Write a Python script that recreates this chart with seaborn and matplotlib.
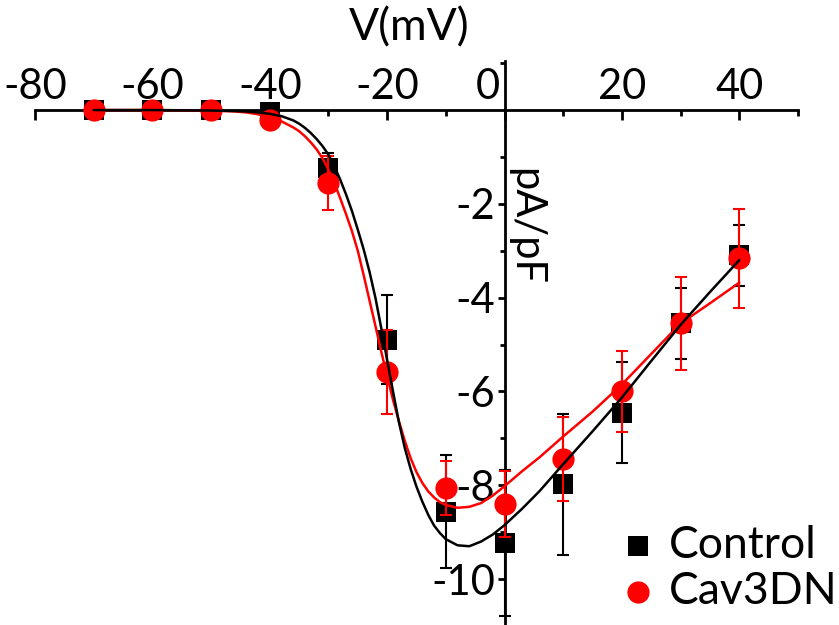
import numpy as np
import pandas as pd
import matplotlib
matplotlib.use("Agg")
import matplotlib.pyplot as plt
import matplotlib.transforms as mtransforms
import seaborn as sns

# Voltage steps (mV)
voltage = [-70, -60, -50, -40, -30, -20, -10, 0, 10, 20, 30, 40]

# Mean current density (pA/pF) and error
control_mean = [0.0, 0.0, 0.0, -0.05, -1.24, -4.9, -8.56, -9.23, -7.98, -6.45, -4.55, -3.1]
control_err = [0, 0, 0, 0, 0.33, 0.95, 1.2, 1.55, 1.5, 1.08, 0.75, 0.65]
cav3dn_mean = [0.0, 0.0, 0.0, -0.21, -1.56, -5.58, -8.06, -8.4, -7.44, -6.0, -4.55, -3.16]
cav3dn_err = [0, 0, 0, 0, 0.57, 0.9, 0.57, 0.7, 0.9, 0.86, 1.0, 1.05]

# Fitted curves
fit_v = [-70, -60, -50, -46, -44, -42, -40, -38, -36, -35, -34, -33, -32, -31, -30,
         -29, -28, -27, -26, -25, -24, -23, -22, -21, -20, -19, -18, -17, -16, -15,
         -14, -13, -12, -11, -10, -8, -6, -4, -2, 0, 3, 6, 10, 15, 20, 25, 30, 35, 40]
control_fit = [0.0, 0.0, -0.01, -0.02, -0.03, -0.05, -0.08, -0.13, -0.22, -0.29, -0.38,
               -0.49, -0.62, -0.77, -0.95, -1.2, -1.48, -1.8, -2.15, -2.55, -2.97, -3.45,
               -4.0, -4.65, -5.33, -6.0, -6.65, -7.2, -7.65, -8.03, -8.35, -8.63, -8.86,
               -9.02, -9.15, -9.28, -9.3, -9.2, -9.05, -8.85, -8.5, -8.12, -7.55, -6.85,
               -6.13, -5.35, -4.58, -3.88, -3.2]
cav3dn_fit = [0.0, 0.0, -0.01, -0.03, -0.05, -0.09, -0.15, -0.24, -0.37, -0.45, -0.56,
              -0.69, -0.84, -1.03, -1.27, -1.55, -1.88, -2.22, -2.58, -3.0, -3.52, -4.06,
              -4.6, -5.15, -5.68, -6.18, -6.63, -7.05, -7.42, -7.72, -7.95, -8.13, -8.26,
              -8.36, -8.42, -8.48, -8.46, -8.38, -8.22, -8.02, -7.7, -7.4, -6.96, -6.43,
              -5.85, -5.2, -4.55, -4.12, -3.68]

pts = pd.DataFrame({"V": voltage, "control": control_mean, "cav3dn": cav3dn_mean})
fits = pd.DataFrame({"V": fit_v, "control": control_fit, "cav3dn": cav3dn_fit})

sns.set_style("ticks", {"xtick.color": "black", "ytick.color": "black",
                        "text.color": "black", "axes.edgecolor": "black",
                        "axes.labelcolor": "black"})
plt.rcParams["font.family"] = ["Lato", "DejaVu Sans"]

fig = plt.figure(figsize=(8.39, 6.25), dpi=100)
ax = fig.add_axes([0.0417, 0.0022, 0.9094, 0.9005])

# error bars first, markers on top, fit lines above everything
ax.errorbar(voltage, control_mean, yerr=control_err, fmt="none", ecolor="black",
            elinewidth=1.5, capsize=4, capthick=1.5, zorder=2)
sns.scatterplot(data=pts, x="V", y="control", ax=ax, marker="s", s=14.5 ** 2,
                color="black", linewidth=0, label="Control", zorder=3)
ax.errorbar(voltage, cav3dn_mean, yerr=cav3dn_err, fmt="none", ecolor="#ff0000",
            elinewidth=1.5, capsize=4, capthick=1.5, zorder=4)
sns.scatterplot(data=pts, x="V", y="cav3dn", ax=ax, marker="o", s=16 ** 2,
                color="#ff0000", linewidth=0, label="Cav3DN", zorder=5)
sns.lineplot(data=fits, x="V", y="cav3dn", ax=ax, color="#ff0000", linewidth=1.8,
             sort=False, legend=False, zorder=6)
sns.lineplot(data=fits, x="V", y="control", ax=ax, color="black", linewidth=1.8,
             sort=False, legend=False, zorder=7)

ax.set_xlim(-80, 50)
ax.set_ylim(-10.95, 1.05)

# axes crossing at the origin
ax.spines["right"].set_visible(False)
ax.spines["bottom"].set_visible(False)
ax.spines["top"].set_position(("data", 0))
ax.spines["left"].set_position(("data", 0))
for side in ["top", "left"]:
    ax.spines[side].set_linewidth(2)
    ax.spines[side].set_color("black")
    ax.spines[side].set_zorder(1)

ax.xaxis.tick_top()
ax.set_xticks([-80, -60, -40, -20, 0, 20, 40])
ax.set_xticks([-70, -50, -30, -10, 10, 30, 50], minor=True)
ax.set_yticks([-10, -8, -6, -4, -2])
ax.set_yticks([-9, -7, -5, -3, -1, 1], minor=True)
ax.tick_params(axis="x", which="major", direction="in", length=7, width=2, labelsize=30, pad=3)
ax.tick_params(axis="x", which="minor", direction="in", length=4, width=2)
ax.tick_params(axis="y", which="major", direction="out", length=5, width=2, labelsize=30, pad=2)
ax.tick_params(axis="y", which="minor", direction="out", length=3.5, width=2)
ax.set_xlabel("")
ax.set_ylabel("")

ax.set_xticklabels(["-80", "-60", "-40", "-20", "0", "20", "40"])
ax.set_yticklabels(["-10", "-8", "-6", "-4", "-2"])
# nudge the "0" label off the y axis
for lbl in ax.get_xticklabels():
    if lbl.get_text() == "0":
        lbl.set_ha("right")
        lbl.set_transform(lbl.get_transform() +
                          mtransforms.ScaledTranslation(-3 / 72, 0, fig.dpi_scale_trans))

fig.text(409 / 839, 1 - 40 / 625, "V(mV)", fontsize=32, ha="center", va="baseline")
fig.text(525 / 839, 1 - 227 / 625, "pA/pF", fontsize=30, rotation=-90, ha="center", va="center")

ax.legend(loc="lower right", bbox_to_anchor=(838 / 839, 13 / 625), bbox_transform=fig.transFigure,
          frameon=False, fontsize=32, borderpad=0, borderaxespad=0, handlelength=0.8,
          handletextpad=0.3, labelspacing=0.12)

fig.savefig("out.png", dpi=100)
